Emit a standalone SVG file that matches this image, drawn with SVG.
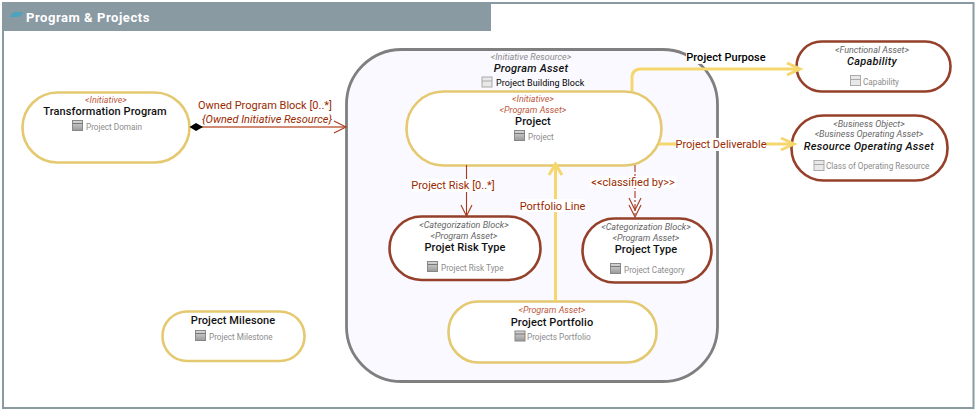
<svg xmlns="http://www.w3.org/2000/svg" width="976" height="411" viewBox="0 0 976 411">
<style>
text{font-family:Roboto,"Liberation Sans",sans-serif;text-anchor:middle}
.st{font-size:9px;font-style:italic;fill:#666}
.sr{font-size:9px;font-style:italic;fill:#bd5a40}
.t{font-size:11px;font-weight:500;fill:#111;letter-spacing:.1px}
.ti{font-size:11px;font-weight:500;font-style:italic;fill:#111;letter-spacing:.25px}
.s{font-size:8.200px;fill:#8c8c8c;text-anchor:start}
.l{font-size:11px;fill:#9a2a00}
.y{fill:#fff;stroke:#e4c970;stroke-width:2.600}
.b{fill:#fff;stroke:#95402a;stroke-width:2.600}
.cy{fill:none;stroke:#f5d76e;stroke-width:3}
.cr{fill:none;stroke:#a8391a;stroke-width:1.100}
.bg{fill:#fff}
</style>
<defs>
<linearGradient id="ig" x1="0" y1="0" x2="0" y2="1"><stop offset="0" stop-color="#d8d8d8"/><stop offset="1" stop-color="#999"/></linearGradient>
<g id="icon"><rect x="0" y="0" width="10" height="10" fill="url(#ig)" stroke="#888" stroke-width="1"/><line x1="0" y1="3" x2="10" y2="3" stroke="#777"/></g>
<g id="iconl"><rect x="0" y="0" width="10" height="10" fill="#e8e8e8" stroke="#aaa" stroke-width="1"/><line x1="0" y1="4" x2="10" y2="4" stroke="#aaa"/></g>
</defs>
<rect width="976" height="411" fill="#fff"/>
<g id="frame">
<rect x="3" y="3" width="970.500" height="405" fill="#fff" stroke="#8a9aa3" stroke-width="2"/>
<rect x="3" y="3" width="488" height="28" fill="#8a9aa3"/>
<path d="M10 17 Q11 12 17 12 L23 12 Q22 17 17 17 Z" fill="#4ea3bf"/>
<text x="26" y="22" style="font-size:13px;font-weight:700;fill:#fff;text-anchor:start;letter-spacing:.55px">Program &amp; Projects</text>
</g>
<g id="program-asset">
<rect x="346.500" y="49.500" width="371" height="332" rx="55" fill="#f9f9ff" stroke="#7f7f7f" stroke-width="2.800"/>
<text class="st" x="531" y="60" style="fill:#8c8c8c">&lt;Initiative Resource&gt;</text>
<text class="ti" x="531" y="72">Program Asset</text>
<use href="#iconl" x="482" y="77"/>
<text x="496" y="86" style="font-size:9px;fill:#000;text-anchor:start;letter-spacing:.05px">Project Building Block</text>
</g>
<g id="transformation-program">
<rect class="y" x="22.500" y="92.500" width="167" height="70" rx="35"/>
<text class="sr" x="106" y="103">&lt;Initiative&gt;</text>
<text class="t" x="105" y="115">Transformation Program</text>
<use href="#icon" x="72.500" y="120.500"/>
<text class="s" x="86" y="130">Project Domain</text>
</g>
<g id="project">
<rect class="y" x="406.500" y="91.500" width="255" height="74" rx="37"/>
<text class="sr" x="533" y="102">&lt;Initiative&gt;</text>
<text class="sr" x="533" y="113">&lt;Program Asset&gt;</text>
<text class="t" x="533" y="125">Project</text>
<use href="#icon" x="514.500" y="130.500"/>
<text class="s" x="528" y="140">Project</text>
</g>
<g id="capability">
<rect class="b" x="796.500" y="41.500" width="154" height="50" rx="25"/>
<text class="st" x="872" y="53">&lt;Functional Asset&gt;</text>
<text class="ti" x="872" y="65">Capability</text>
<use href="#iconl" x="850.500" y="75.500"/>
<text class="s" x="863" y="85">Capability</text>
</g>
<g id="resource-operating-asset">
<rect class="b" x="791.500" y="115.500" width="156" height="65" rx="32"/>
<text class="st" x="869" y="127">&lt;Business Object&gt;</text>
<text class="st" x="869" y="137">&lt;Business Operating Asset&gt;</text>
<text class="ti" x="869" y="150">Resource Operating Asset</text>
<use href="#iconl" x="814" y="160.500"/>
<text class="s" x="826" y="169">Class of Operating Resource</text>
</g>
<g id="project-risk-type">
<rect class="b" x="389.500" y="216.500" width="151" height="63.500" rx="32"/>
<text class="st" x="464" y="228">&lt;Categorization Block&gt;</text>
<text class="st" x="464" y="239">&lt;Program Asset&gt;</text>
<text class="t" x="465" y="251">Projet Risk Type</text>
<use href="#icon" x="427.500" y="261.500"/>
<text class="s" x="441" y="271">Project Risk Type</text>
</g>
<g id="project-type">
<rect class="b" x="582.500" y="218.500" width="129" height="64" rx="32"/>
<text class="st" x="646" y="230">&lt;Categorization Block&gt;</text>
<text class="st" x="646" y="241">&lt;Program Asset&gt;</text>
<text class="t" x="646" y="253">Project Type</text>
<use href="#icon" x="610.500" y="263.500"/>
<text class="s" x="624" y="273">Project Category</text>
</g>
<g id="project-portfolio">
<rect class="y" x="448.500" y="301.500" width="208" height="61" rx="30"/>
<text class="sr" x="552" y="313">&lt;Program Asset&gt;</text>
<text class="t" x="552" y="326">Project Portfolio</text>
<use href="#icon" x="515" y="331"/>
<text class="s" x="527" y="340">Projects Portfolio</text>
</g>
<g id="project-milesone">
<rect class="y" x="162.500" y="311.500" width="142" height="49.500" rx="24.500"/>
<text class="t" x="233" y="324">Project Milesone</text>
<use href="#icon" x="195.500" y="330.500"/>
<text class="s" x="209" y="340">Project Milestone</text>
</g>
<g id="connectors">
<path d="M197 127 H346" fill="none" stroke="#d18a73" stroke-width="2"/>
<path d="M334 121 L346 127 L334 133" class="cr"/>
<path d="M189.500 127 L196 123 L203 127 L196 131 Z" fill="#000"/>
<rect class="bg" x="198" y="99" width="135" height="13"/>
<text class="l" x="265" y="109">Owned Program Block [0..*]</text>
<text class="l" x="267" y="123" style="font-style:italic">{Owned Initiative Resource}</text>
<path d="M632 91 V78 Q632 69 641 69 H798" class="cy"/>
<path d="M787 63 L800 69 L787 75" class="cy"/>
<rect class="bg" x="686" y="51" width="81" height="13"/>
<text x="726" y="61" style="font-size:11px;font-weight:500;fill:#000;letter-spacing:.05px">Project Purpose</text>
<path d="M659 144 H792" class="cy"/>
<path d="M781 138 L794 144 L781 150" class="cy"/>
<rect class="bg" x="676" y="138" width="90" height="13"/>
<text class="l" x="721" y="148">Project Deliverable</text>
<path d="M466.500 165 V216" class="cr"/>
<path d="M461 205 L466.500 216 L472 205" class="cr"/>
<rect class="bg" x="412" y="179" width="82" height="13"/>
<text class="l" x="453" y="189">Project Risk [0..*]</text>
<path d="M635 165 V217" class="cr" stroke-dasharray="7 2 2 2"/>
<path d="M629 198 L635 210 L641 198 M629 205 L635 217 L641 205" class="cr"/>
<rect class="bg" x="590" y="176" width="86" height="12"/>
<text class="l" x="633" y="186">&lt;&lt;classified by&gt;&gt;</text>
<path d="M555.500 301 V166" class="cy"/>
<path d="M549 175 L555.500 164 L562 175" class="cy"/>
<rect class="bg" x="520" y="199" width="65" height="13"/>
<text class="l" x="552.500" y="210">Portfolio Line</text>
</g>
</svg>
